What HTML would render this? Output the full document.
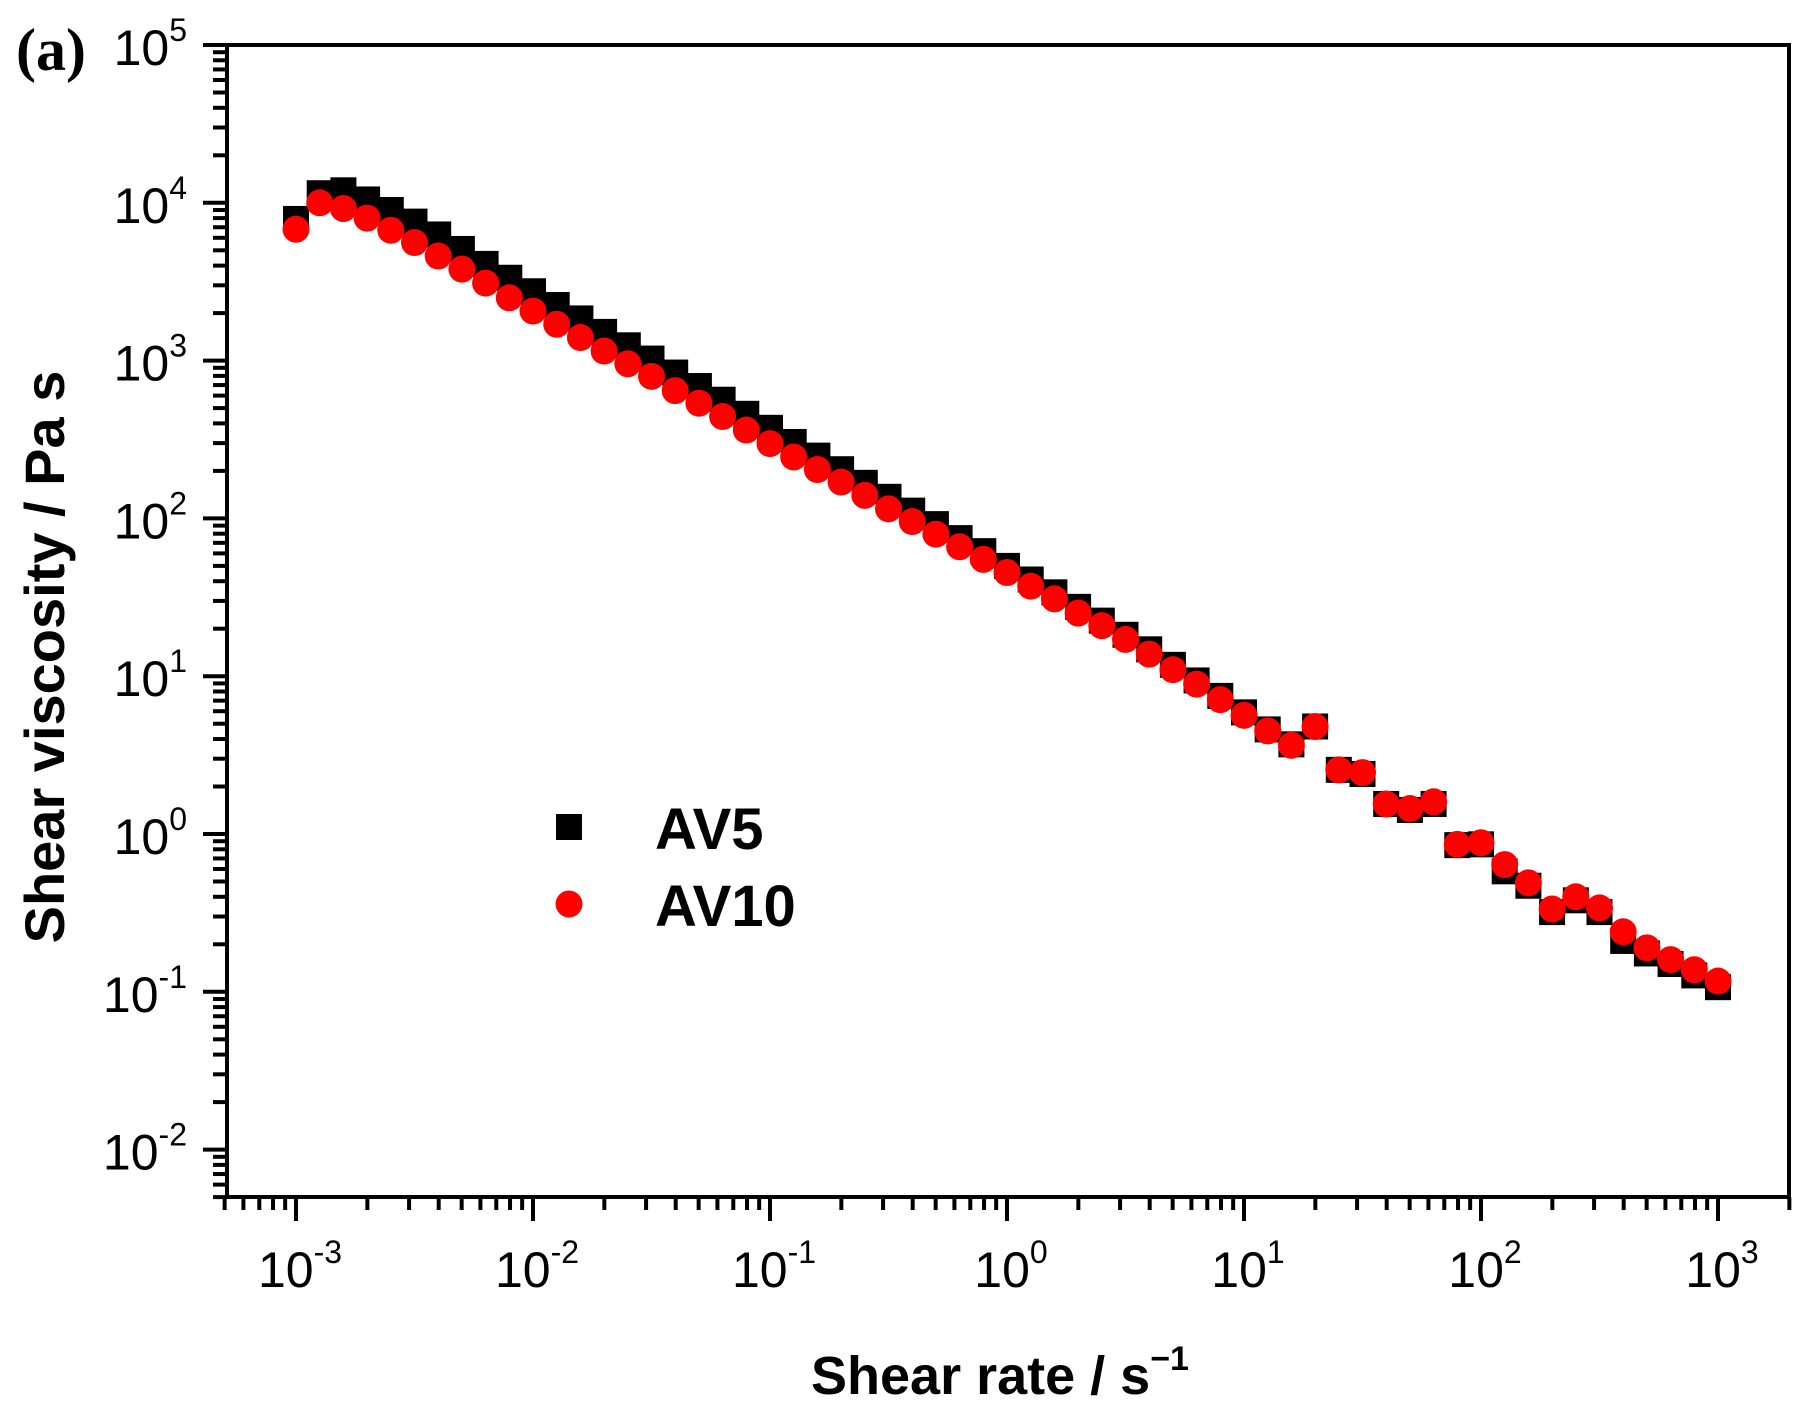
<!DOCTYPE html>
<html><head><meta charset="utf-8"><style>
html,body{margin:0;padding:0;background:#fff;}
svg{display:block;}
text{font-family:"Liberation Sans",Arial,sans-serif;}
</style></head><body>
<svg id="chart" width="1811" height="1426" viewBox="0 0 1811 1426" xmlns="http://www.w3.org/2000/svg">
<rect width="1811" height="1426" fill="#fff"/>
<text x="16" y="70" font-weight="bold" font-size="60" style="font-family:'Liberation Serif',serif">(a)</text>
<g id="ticks"></g>
<g id="marks"></g>
<rect x="227" y="45" width="1562" height="1152" fill="none" stroke="#000" stroke-width="4"/>
<text transform="translate(64,657) rotate(-90)" text-anchor="middle" font-weight="bold" font-size="56">Shear viscosity / Pa s</text>
<text x="1000" y="1394" text-anchor="middle" font-weight="bold" font-size="54">Shear rate / s<tspan dy="-24" font-size="34">−1</tspan></text>
<g>
<rect x="556" y="814" width="26" height="26" fill="#000"/>
<text x="655" y="849" font-weight="bold" font-size="58">AV5</text>
<circle cx="569" cy="904" r="13.5" fill="#f00"/>
<text x="655" y="926" font-weight="bold" font-size="58">AV10</text>
</g>
</svg>
<script>
const xExponents = [-3,-2,-1,0,1,2,3];
const yExponents = [-2,-1,0,1,2,3,4,5];
const shearRate = [];
for (let k = 0; k <= 60; k++) shearRate.push(Math.pow(10, -3 + k/10));
const av5 = [7900,11500,12000,10500,9000,7600,6300,5100,4100,3350,2750,2250,1850,1520,1250,1030,840,690,565,460,375,305,250,205,168,137,112,92,75,62,50,41,34,27.5,22.5,18.3,14.8,11.8,9.4,7.5,5.9,4.6,3.7,4.8,2.55,2.4,1.55,1.42,1.55,0.85,0.86,0.58,0.47,0.32,0.38,0.32,0.21,0.175,0.15,0.127,0.107];
const av10 = [6800,10000,9200,8000,6700,5600,4600,3800,3100,2500,2060,1700,1400,1150,955,795,645,537,442,363,298,245,204,170,140,115,95.5,79.4,66.1,55,45.4,37.2,30.9,25.1,20.9,17.1,13.8,11.0,8.9,7.1,5.65,4.5,3.65,4.8,2.55,2.45,1.55,1.45,1.6,0.86,0.88,0.64,0.49,0.335,0.40,0.34,0.24,0.19,0.16,0.138,0.117];

const NS = 'http://www.w3.org/2000/svg';
const X = v => 296 + (Math.log10(v) + 3) * 237;
const Y = v => 45 + (5 - Math.log10(v)) * 157.8;
const ticks = document.getElementById('ticks');
const marks = document.getElementById('marks');
function line(x1,y1,x2,y2){const l=document.createElementNS(NS,'line');l.setAttribute('x1',x1);l.setAttribute('y1',y1);l.setAttribute('x2',x2);l.setAttribute('y2',y2);l.setAttribute('stroke','#000');l.setAttribute('stroke-width','4');return l;}
for (let e = -4; e <= 3; e++) {
  for (let m = 1; m <= 9; m++) {
    const v = m * Math.pow(10, e);
    if (v < 5e-4 - 1e-9 || v > 2000 + 1e-6) continue;
    const x = X(v);
    const t = line(x, 1197, x, 1197 + (m === 1 ? 24 : 13));
    
    
    ticks.appendChild(t);
  }
}
for (let e = -3; e <= 4; e++) {
  for (let m = 1; m <= 9; m++) {
    const v = m * Math.pow(10, e);
    if (v < 5e-3 - 1e-9 || v > 1e5 + 1e-6) continue;
    const y = Y(v);
    const t = line(227, y, 227 - (m === 1 ? 24 : 14), y);
    
    
    ticks.appendChild(t);
  }
}
const topTick = line(227,45,203,45);


ticks.appendChild(topTick);
function label(x, y, e, anchor, name) {
  const t = document.createElementNS(NS,'text');
  t.setAttribute('x', x); t.setAttribute('y', y);
  t.setAttribute('text-anchor', anchor);
  t.setAttribute('font-size', '50');
  
  
  const s = document.createElementNS(NS,'tspan');
  s.textContent = '10'; t.appendChild(s);
  const p = document.createElementNS(NS,'tspan');
  p.setAttribute('dy', '-24'); p.setAttribute('font-size', '32');
  p.textContent = (e < 0 ? '-' : '') + Math.abs(e);
  t.appendChild(p);
  return t;
}
xExponents.forEach(e => {
  ticks.appendChild(label(X(Math.pow(10,e)) + 4, 1287, e, 'middle', 'x-tick-label'));
});
yExponents.forEach(e => {
  ticks.appendChild(label(187, Y(Math.pow(10,e)) + 20, e, 'end', 'y-tick-label'));
});
shearRate.forEach((x, i) => {
  const r = document.createElementNS(NS,'rect');
  r.setAttribute('x', X(x) - 13); r.setAttribute('y', Y(av5[i]) - 13);
  r.setAttribute('width', 26); r.setAttribute('height', 26);
  r.setAttribute('fill', '#000');
  
  
  marks.appendChild(r);
});
shearRate.forEach((x, i) => {
  const c = document.createElementNS(NS,'circle');
  c.setAttribute('cx', X(x)); c.setAttribute('cy', Y(av10[i]));
  c.setAttribute('r', 13.5);
  c.setAttribute('fill', '#f00');
  
  
  marks.appendChild(c);
});
</script>
</body></html>
